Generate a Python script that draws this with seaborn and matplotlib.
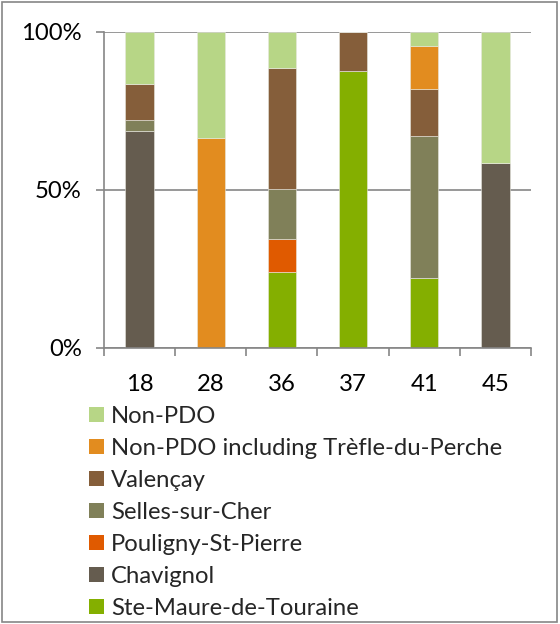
import pandas as pd
import seaborn as sns
import matplotlib.pyplot as plt
from matplotlib.patches import Patch, Rectangle

departments = ['18', '28', '36', '37', '41', '45']

# stack order: first entry on top, last entry at bottom (and legend top to bottom)
cheeses = ['Non-PDO', 'Non-PDO including Trèfle-du-Perche', 'Valençay',
           'Selles-sur-Cher', 'Pouligny-St-Pierre', 'Chavignol',
           'Ste-Maure-de-Touraine']
colors = ['#B7D686', '#E28C1F', '#855E3A', '#808059', '#E05A00', '#655C4F', '#84AF00']

# shares (%) per department, one list per cheese
non_pdo = [16.4, 33.4, 11.3, 0.0, 4.5, 41.4]
non_pdo_trefle = [0.0, 66.6, 0.0, 0.0, 13.4, 0.0]
valencay = [11.4, 0.0, 38.4, 12.45, 14.9, 0.0]
selles = [3.4, 0.0, 15.7, 0.0, 44.9, 0.0]
pouligny = [0.0, 0.0, 10.5, 0.0, 0.0, 0.0]
chavignol = [68.8, 0.0, 0.0, 0.0, 0.0, 58.6]
ste_maure = [0.0, 0.0, 24.1, 87.55, 22.3, 0.0]

series = [non_pdo, non_pdo_trefle, valencay, selles, pouligny, chavignol, ste_maure]
rows = []
for name, vals in zip(cheeses, series):
    for dep, v in zip(departments, vals):
        rows.append({'dept': dep, 'cheese': name, 'pct': v})
df = pd.DataFrame(rows)

sns.set_theme(style="white")
plt.rcParams['font.family'] = ['Lato', 'DejaVu Sans']

fig = plt.figure(figsize=(5.6, 6.24), dpi=100)
ax = fig.add_axes([104 / 560, 1 - 348 / 624, 427 / 560, 316 / 624])

sns.histplot(data=df, x='dept', hue='cheese', weights='pct', hue_order=cheeses,
             palette=colors, multiple='stack', discrete=True, shrink=0.4,
             linewidth=0.4, edgecolor='#e8e8e0', alpha=1, legend=False, ax=ax)

grey = '#868686'
fs = 17.2
ax.set_xlim(-0.5, 5.5)
ax.set_ylim(0, 100)
ax.set_yticks([0, 50, 100])
ax.set_yticklabels(['0%', '50%', '100%'])
ax.set_xticks(range(len(departments)))
ax.set_xticklabels(departments)
ax.set_xticks([i - 0.5 for i in range(len(departments) + 1)], minor=True)
ax.tick_params(axis='x', which='major', length=0, pad=19, labelsize=fs, colors='black')
ax.tick_params(axis='x', which='minor', length=6, width=1.2, color=grey, direction='out', bottom=True)
ax.tick_params(axis='y', length=6, width=1.2, color=grey, pad=10, labelsize=fs,
               labelcolor='black', left=True)
ax.set_xlabel('')
ax.set_ylabel('')
ax.yaxis.grid(True, color=grey, linewidth=1.2)
ax.set_axisbelow(True)
for side in ['top', 'right']:
    ax.spines[side].set_visible(False)
for side in ['left', 'bottom']:
    ax.spines[side].set_color(grey)
    ax.spines[side].set_linewidth(1.2)

handles = [Patch(facecolor=c, edgecolor='none') for c in colors]
fig.legend(handles, cheeses, loc='upper left', bbox_to_anchor=(89 / 560, 1 - 406 / 624),
           frameon=False, fontsize=fs, handlelength=0.63, handleheight=0.63,
           handletextpad=0.3, labelspacing=0.46, borderaxespad=0, borderpad=0)

fig.patches.append(Rectangle((0.004, 0.003), 0.99, 0.993, transform=fig.transFigure,
                             fill=False, edgecolor=grey, linewidth=1.2))

plt.savefig('out.png', dpi=100)
plt.close()
